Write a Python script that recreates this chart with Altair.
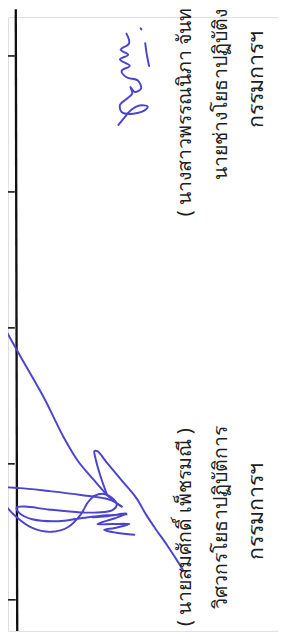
import altair as alt
import pandas as pd

# ---- text lines (rotated, reading bottom-to-top) ----
name_labels = [
    "( นางสาวพรรณนิภา  จันทร์",
    "นายช่างโยธาปฏิบัติงาน",
    "( นายสมศักดิ์  เพ็ชรมณี )",
    "วิศวกรโยธาปฏิบัติการ",
]
name_x = [190, 228, 190, 228]
name_y = [213, 176, 635, 617]

role_labels = ["กรรมการฯ", "กรรมการฯ"]
role_x = [264, 264]
role_y = [122, 567]

# ---- table frame ----
frame_x = [16, 0, 0, 0, 0, 0]
frame_x2 = [17.5, 15, 15, 15, 15, 16]
frame_y = [0, 48, 188, 328, 468, 608]
frame_y2 = [640, 48, 188, 328, 468, 608]
frame_w = [2.4, 1.6, 1.6, 1.6, 1.6, 1.6]

# ---- signature strokes ----
r1_x = [130, 132.7, 124, 131.7, 123.3, 133.3, 125, 130, 141.7, 145, 138.3, 134, 136, 130, 123.3, 125, 133.3, 148.3, 151.7, 143.3, 135, 128.3, 121.7]
r1_y = [25, 35, 41.7, 46.7, 51.7, 58.3, 63.3, 70, 73.3, 81.7, 85, 80, 86.7, 92.3, 98.3, 105.7, 107.7, 104.3, 100, 99, 103.3, 111, 119]
r2_x = [149.3, 151, 153.3]
r2_y = [35, 47, 58.3]
r3_x = [144.6, 145.4]
r3_y = [19.6, 20.8]
a_x = [0, 20, 45, 65, 80, 95, 113, 125]
a_y = [320, 356, 400, 440, 465, 483, 503, 512]
b_x = [110, 103, 98, 97, 100, 110, 125, 140, 150, 160, 172, 185, 188]
b_y = [500, 480, 462, 455, 455, 467, 485, 503, 520, 535, 552, 572, 577]
c_x = [125, 113, 83, 50, 20, 3, 0, 5, 17, 33, 53, 70, 83, 90, 97, 107, 115, 120, 115, 100, 83, 50, 25, 17, 20, 33, 60, 83, 110, 130]
c_y = [512, 505, 500, 496, 493, 493, 498, 510, 523, 534, 538, 533, 520, 508, 501, 499, 503, 510, 516, 518, 518, 515, 512, 513, 519, 525, 527, 524, 521, 520]
d_x = [95, 110, 130, 118, 100, 115, 133, 118, 107, 120, 138]
d_y = [523, 522, 519, 524, 530, 530, 530, 534, 536, 539, 541]

strokes = [("r1", r1_x, r1_y), ("r2", r2_x, r2_y), ("r3", r3_x, r3_y),
           ("a", a_x, a_y), ("b", b_x, b_y), ("c", c_x, c_y), ("d", d_x, d_y)]
rows = []
for sid, xs_, ys_ in strokes:
    for i, (px, py) in enumerate(zip(xs_, ys_)):
        rows.append({"sid": sid, "x": px, "y": py, "order": i})
sig_df = pd.DataFrame(rows)

xs = alt.Scale(domain=[8, 286])
ys = alt.Scale(domain=[8, 640], reverse=True)

name_df = pd.DataFrame({"label": name_labels, "x": name_x, "y": name_y})
role_df = pd.DataFrame({"label": role_labels, "x": role_x, "y": role_y})
frame_df = pd.DataFrame({"x": frame_x, "x2": frame_x2, "y": frame_y, "y2": frame_y2, "w": frame_w})

frame = alt.Chart(frame_df).mark_rule(color="#111111").encode(
    x=alt.X("x:Q", scale=xs, axis=None),
    x2="x2:Q",
    y=alt.Y("y:Q", scale=ys, axis=None),
    y2="y2:Q",
    strokeWidth=alt.StrokeWidth("w:Q", scale=None, legend=None),
)

sig = alt.Chart(sig_df).mark_line(
    color="#4b44cf", strokeWidth=2, interpolate="catmull-rom", strokeCap="round", strokeJoin="round"
).encode(
    x=alt.X("x:Q", scale=xs, axis=None),
    y=alt.Y("y:Q", scale=ys, axis=None),
    detail="sid:N",
    order="order:Q",
)

def text_layer(df, size):
    return alt.Chart(df).mark_text(
        angle=270, align="left", baseline="middle", fontSize=size, color="#1e1e1e",
        font="Noto Sans"
    ).encode(
        x=alt.X("x:Q", scale=xs, axis=None),
        y=alt.Y("y:Q", scale=ys, axis=None),
        text="label:N",
    )

chart = alt.layer(frame, sig, text_layer(name_df, 20), text_layer(role_df, 22)).properties(
    width=278, height=632, padding=0, autosize=alt.AutoSizeParams(type="none")
).configure_view(strokeWidth=0).configure(background="white")

chart.save("out.html", embed_options={"renderer": "svg", "actions": False})
